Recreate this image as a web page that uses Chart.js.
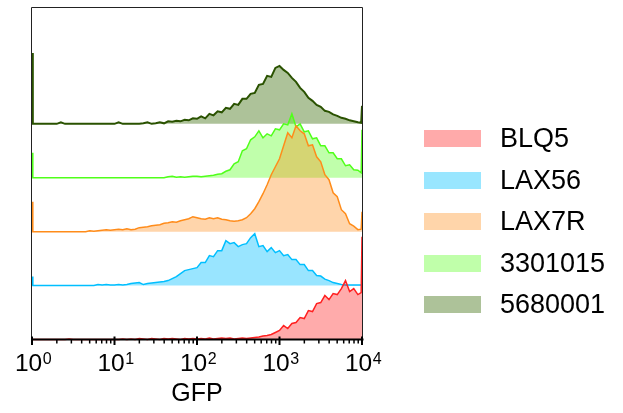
<!DOCTYPE html>
<html>
<head>
<meta charset="utf-8">
<script src="https://cdn.jsdelivr.net/npm/chart.js@4"></script>
<style>
  body { margin: 0; background: #fff; }
  #wrap { position: relative; width: 623px; height: 413px; }
  #legend { position: absolute; left: 424px; top: 130px; font-family: "Liberation Sans", Arial, sans-serif; font-size: 27px; color: #000; }
  .item { position: absolute; left: 0; width: 200px; height: 17px; white-space: nowrap; }
  .swatch { position: absolute; left: 0; top: 0; width: 57px; height: 17px; }
  .label { position: absolute; left: 76px; top: 0; line-height: 17px; }
</style>
</head>
<body>
<div id="wrap">
  <canvas id="chart" width="623" height="413"></canvas>
  <div id="legend"></div>
</div>
<script>
// ===== GFP bins (log spaced) =====
const gfp = [1, 1.023, 1.122, 1.259, 1.413, 1.585, 1.778, 1.995, 2.239, 2.512, 2.818, 3.162, 3.548, 3.981, 4.467, 5.012, 5.623, 6.310, 7.079, 7.943, 8.913,
  10, 11.22, 12.59, 14.13, 15.85, 17.78, 19.95, 22.39, 25.12, 28.18, 31.62, 35.48, 39.81, 44.67, 50.12, 56.23, 63.10, 70.79, 79.43, 89.13,
  100, 112.2, 125.9, 141.3, 158.5, 177.8, 199.5, 223.9, 251.2, 281.8, 316.2, 354.8, 398.1, 446.7, 501.2, 562.3, 631.0, 707.9, 794.3, 891.3,
  1000, 1122, 1259, 1413, 1585, 1778, 1995, 2239, 2512, 2818, 3162, 3548, 3981, 4467, 5012, 5623, 6310, 7079, 7943, 8913,
  9772, 10000];

const samples = ["BLQ5", "LAX56", "LAX7R", "3301015", "5680001"];

// ===== Event counts per bin =====
const blq5 = [0, 0, 0, 0, 0, 0, 0, 0, 0, 0, 0.5, 0, 0, 0, 0, 0, 0, 0, 0, 0, 0,
  0, 0, 0.5, 0, 0.5, 0, 1, 0.5, 0, 1, 0.5, 0, 1, 0.5, 1, 0.5, 0, 1, 0.5, 1,
  0.5, 1, 0.5, 1.5, 0.5, 1, 1.5, 1, 1.5, 0.5, 1, 1.5, 1, 1.5, 2, 2.5, 3.5, 4, 5, 7,
  9, 14, 11, 16, 17, 22, 21, 29, 28, 36, 37, 44, 40, 46, 45, 51, 59, 48, 51, 45,
  47, 103];
const lax56 = [9, 0, 0, 0, 0, 0, 0, 0, 0, 0, 0, 0, 0, 0, 0, 0, 0, 1, 0.5, 1, 0.5,
  0.5, 1, 0.5, 1, 2, 2.5, 3, 1, 2, 2.5, 3, 3.5, 4, 5, 7, 9, 12, 15, 16, 17,
  18, 23, 23, 30, 29, 35, 35, 45, 42, 43, 39, 41, 42, 48, 52, 39, 40, 34, 38, 33,
  35, 30, 31, 26, 26, 21, 21, 15, 15, 10, 9.5, 6.5, 5, 3, 2, 1, 0.5, 0.5, 0.5, 0.5,
  0.5, 1];
const lax7r = [30, 0, 0, 0, 0, 0, 0, 0, 0, 0, 0, 0, 0, 0, 0, 1, 0.5, 1, 1.5, 2, 1.5,
  2, 2.5, 2, 3, 2, 2.5, 4, 4.5, 5, 6, 6.5, 7, 8.5, 9, 10, 9.5, 11, 12, 13, 15,
  14, 13, 12.5, 14, 13, 14, 12.5, 12, 11, 10.5, 11, 12, 14, 18, 23, 30, 38, 47, 57, 65,
  73, 86, 99, 94, 106, 101, 98, 86, 87, 75, 70, 57, 52, 39, 35, 22, 18, 8, 5.5, 2,
  2.5, 20];
const s3301015 = [25, 0, 0, 0, 0, 0, 0, 0, 0, 0, 0, 0, 0, 0, 0, 0, 0, 0, 0, 0, 0,
  0, 0, 0, 0, 0, 0, 0, 0, 0, 0, 0, 0, 0, 1, 1.5, 0.5, 1, 0.5, 1, 1.5,
  1.5, 1, 1.5, 2, 2.5, 3.5, 4, 6.5, 8, 14, 16, 27, 29, 38, 41, 47, 40, 44, 42, 49,
  48, 54, 53, 64, 51, 54, 46, 47, 39, 40, 32, 32, 25, 25, 19, 19, 12, 13, 8, 7.5,
  5, 48];
const s5680001 = [71, 0, 0, 0, 0, 0, 0, 0, 1.5, 0, 0, 0, 0, 0, 0, 0, 0, 0, 0, 0, 0,
  0, 1.5, 0, 0, 0, 0, 0, 0.5, 1.5, 0, 0.5, 1.5, 0.5, 2.5, 2, 3, 2.5, 4, 3.5, 5.5,
  5, 7.5, 5.5, 10, 8.5, 12.5, 11.5, 16, 15, 20, 19, 25, 25, 30, 31, 39, 40, 48, 47, 56,
  58, 54, 51, 46, 42, 36, 32, 26, 23, 19, 17, 13, 12, 9.5, 8, 6, 5, 3.5, 2.5, 1.5,
  1, 18];

// ===== Styles =====
const lineColors = ["#ff2020", "#00bfff", "#ff8c1a", "#50ff1a", "#2a5200"];
const lineWidths = [1.5, 1.5, 1.5, 1.5, 2];
const fillColors = ["rgba(255,0,0,0.33)", "rgba(0,191,255,0.4)", "rgba(255,128,0,0.33)", "rgba(64,255,0,0.33)", "rgba(51,102,0,0.4)"];
const swatchColors = ["#ffaaaa", "#99e6ff", "#ffd5aa", "#c0ffaa", "#adc299"];
const laneStep = 54;
const fontFamily = '"Liberation Sans", Arial, sans-serif';

const series = [blq5, lax56, lax7r, s3301015, s5680001];
const datasets = series.map((counts, i) => ({
  label: samples[i],
  data: counts.map((c, j) => ({ x: gfp[j], y: i * laneStep + c })),
  borderColor: lineColors[i],
  backgroundColor: fillColors[i],
  borderWidth: lineWidths[i],
  pointRadius: 0,
  tension: 0,
  fill: { value: i * laneStep },
  clip: 3
}));

// ===== Frame, log ticks and tick labels =====
const framePlugin = {
  id: 'frame',
  afterDatasetsDraw(chart) {
    const { ctx, chartArea: a, scales: { x } } = chart;
    ctx.save();
    ctx.strokeStyle = '#222';
    ctx.lineWidth = 1;
    ctx.beginPath();
    ctx.moveTo(a.left - 0.5, a.bottom);
    ctx.lineTo(a.left - 0.5, a.top + 0.5);
    ctx.lineTo(a.right + 0.5, a.top + 0.5);
    ctx.lineTo(a.right + 0.5, a.bottom);
    ctx.stroke();

    ctx.strokeStyle = '#000';
    ctx.lineWidth = 2;
    ctx.beginPath();
    ctx.moveTo(a.left - 1, a.bottom);
    ctx.lineTo(a.right + 1.5, a.bottom);
    ctx.stroke();

    ctx.fillStyle = '#000';
    ctx.textBaseline = 'alphabetic';
    ctx.textAlign = 'left';
    for (let d = 1; d <= 10000; d *= 10) {
      const px = x.getPixelForValue(d);
      ctx.lineWidth = 2;
      ctx.beginPath();
      ctx.moveTo(px, a.bottom - 3);
      ctx.lineTo(px, a.bottom + 5.5);
      ctx.stroke();
      if (d < 10000) {
        ctx.lineWidth = 1.5;
        for (let m = 2; m <= 9; m++) {
          const mx = x.getPixelForValue(m * d);
          ctx.beginPath();
          ctx.moveTo(mx, a.bottom);
          ctx.lineTo(mx, a.bottom + 4);
          ctx.stroke();
        }
      }
      const exp = String(Math.round(Math.log10(d)));
      ctx.font = '24.5px ' + fontFamily;
      const w1 = ctx.measureText('10').width;
      ctx.font = '16px ' + fontFamily;
      const w2 = ctx.measureText(exp).width;
      const left = px - (w1 + w2) / 2 + 1;
      ctx.font = '24.5px ' + fontFamily;
      ctx.fillText('10', left, a.bottom + 31.5);
      ctx.font = '16px ' + fontFamily;
      ctx.fillText(exp, left + w1 + 0.5, a.bottom + 24);
    }
    ctx.restore();
  }
};

const chart = new Chart(document.getElementById('chart'), {
  type: 'line',
  data: { datasets },
  options: {
    responsive: false,
    animation: false,
    layout: { padding: { left: 32, right: 261, top: 7, bottom: 0 } },
    scales: {
      x: {
        type: 'logarithmic',
        min: 1,
        max: 10000,
        grid: { display: false, drawTicks: false },
        border: { display: false },
        ticks: { display: false },
        title: {
          display: true,
          text: 'GFP',
          color: '#000',
          font: { family: fontFamily, size: 25 },
          padding: { top: 39.5, bottom: 4 }
        }
      },
      y: {
        display: false,
        min: 0,
        max: 333
      }
    },
    plugins: {
      legend: { display: false },
      tooltip: { enabled: false }
    }
  },
  plugins: [framePlugin]
});

// ===== Legend =====
const legend = document.getElementById('legend');
samples.forEach((name, i) => {
  legend.innerHTML += `<div class="item" style="top:${i * 41.5}px"><div class="swatch" style="background:${swatchColors[i]}"></div><span class="label">${name}</span></div>`;
});
</script>
</body>
</html>
